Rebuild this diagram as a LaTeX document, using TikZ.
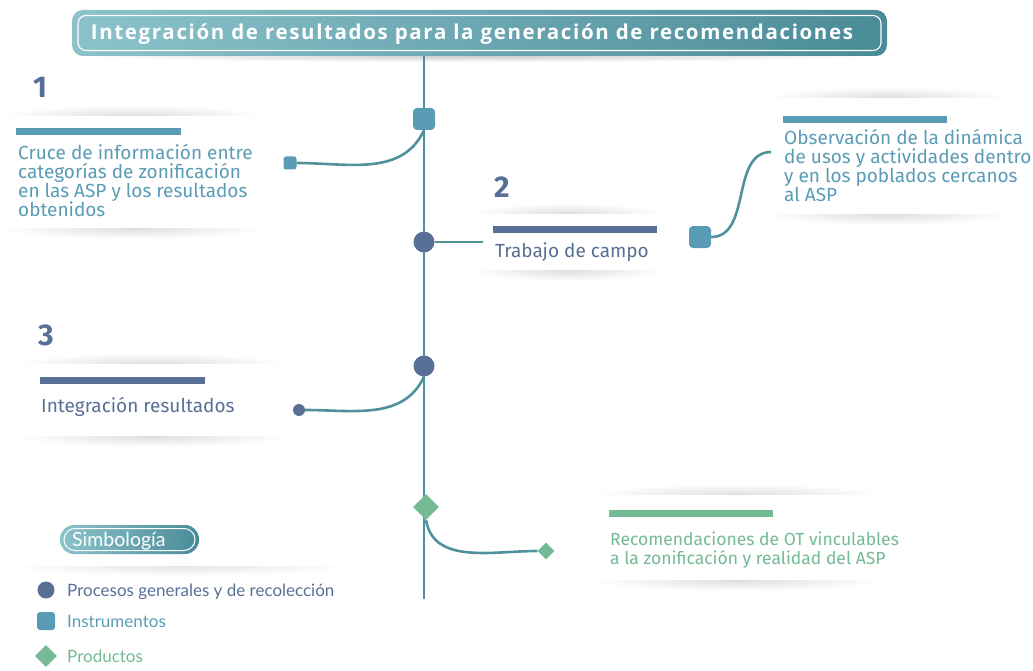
\documentclass[tikz,border=0pt]{standalone}
\usepackage{fontspec}
\setmainfont{Fira Sans}
\newfontfamily\titlefont[LetterSpace=8]{Open Sans}
\newfontfamily\legfont{Lato}
\usetikzlibrary{shapes.geometric}
\definecolor{navy}{HTML}{586F96}
\definecolor{bteal}{HTML}{5A9CB6}
\definecolor{lteal}{HTML}{4F929C}
\definecolor{pgreen}{HTML}{74BA95}
\definecolor{gleft}{HTML}{8CC3CB}
\definecolor{gright}{HTML}{4A8B98}
\tikzset{
  x=1pt, y=-1pt,
  conn/.style={draw=lteal, line width=2.6pt},
  procbig/.style={circle, fill=navy, minimum size=21pt, inner sep=0pt},
  procsmall/.style={circle, fill=navy, minimum size=12pt, inner sep=0pt},
  instbig/.style={rectangle, rounded corners=4pt, fill=bteal, minimum size=22pt, inner sep=0pt},
  instsmall/.style={rectangle, rounded corners=2.5pt, fill=bteal, minimum size=13pt, inner sep=0pt},
  prodbig/.style={diamond, fill=pgreen, minimum size=26pt, inner sep=0pt},
  prodsmall/.style={diamond, fill=pgreen, minimum size=17pt, inner sep=0pt},
  numtxt/.style={font=\fontsize{30}{32}\selectfont\bfseries, text=navy, anchor=base west, inner sep=0pt},
  bodytxt/.style={font=\fontsize{19}{19}\selectfont, anchor=base west, align=left, inner sep=0pt},
  legtxt/.style={font=\legfont\fontsize{17}{19}\selectfont, anchor=base west, inner sep=0pt},
  bar/.style={inner sep=0pt, minimum height=7pt, anchor=north west},
}
\newcommand{\cardshadow}[4]{% x1,y1,x2,y2
  \shade[inner color=black!13, outer color=white] ({(#1+#3)/2},#2) ellipse ({(#3-#1)/2} and 11);
  \shade[inner color=black!13, outer color=white] ({(#1+#3)/2},#4) ellipse ({(#3-#1)/2} and 11);
  \fill[white] (#1-30,#2) rectangle (#3+30,#4);
}
\begin{document}
\begin{tikzpicture}
\useasboundingbox (0,0) rectangle (1033,671);
% card shadows
\cardshadow{0}{116}{265}{228}
\cardshadow{470}{214}{665}{270}
\cardshadow{765}{98}{1010}{214}
\cardshadow{15}{364}{290}{436}
\cardshadow{590}{495}{885}{580}
\shade[inner color=black!10, outer color=white] (180,566) ellipse (175 and 10);
\fill[white] (0,500) rectangle (400,566);
% title shadow
\shade[inner color=black!20, outer color=white] (480,56) ellipse (410 and 6);
% title
\node[rectangle, rounded corners=11pt, left color=gleft, right color=gright, minimum width=815pt, minimum height=46pt, inner sep=0pt] (title) at (479.5,33) {};
\node[rectangle, rounded corners=8pt, draw=white, line width=1.1pt, minimum width=803pt, minimum height=35pt, inner sep=0pt] (titlein) at (479.5,33) {};
\node[font=\titlefont\fontsize{20.5}{22}\selectfont\bfseries, text=white, inner sep=0pt, anchor=base] (titletxt) at (472,40) {Integración de resultados para la generación de recomendaciones};
% main line
\coordinate (top) at (424,56);
\coordinate (bottom) at (424,599);
\draw[conn] (top) -- (bottom);
% step 1
\node[instbig] (sq1) at (424,119) {};
\node[instsmall] (ss1) at (290,163) {};
\draw[conn] (sq1.south) to[out=-115, in=0] (ss1.east);
\node[numtxt] (n1) at (33,98) {1};
\node[bar, fill=bteal, minimum width=165pt] (b1) at (16,128) {};
\node[bodytxt, text=bteal] (t1) at (18,217) {Cruce de información entre\\categorías de zonificación\\en las ASP y los resultados\\obtenidos};
% step 2
\node[procbig] (c2) at (424,242) {};
\coordinate (c2end) at (483,242);
\draw[conn] (c2.east) -- (c2end);
\node[numtxt] (n2) at (494,197) {2};
\node[bar, fill=navy, minimum width=164pt] (b2) at (493,226) {};
\node[bodytxt, text=navy] (t2) at (495,257) {Trabajo de campo};
\node[instbig] (sq2) at (700,237) {};
\coordinate (obsin) at (771,152);
\draw[conn] (sq2.east) to[out=0, in=180] (obsin);
\node[bar, fill=bteal, minimum width=164pt] (b3) at (783,116) {};
\node[bodytxt, text=bteal] (t3) at (784,201) {Observación de la dinámica\\de usos y actividades dentro\\y en los poblados cercanos\\al ASP};
% step 3
\node[procbig] (c3) at (424,366) {};
\node[procsmall] (sc3) at (299,410) {};
\draw[conn] (c3.south) to[out=-115, in=0] (sc3.east);
\node[numtxt] (n3) at (38,345) {3};
\node[bar, fill=navy, minimum width=165pt] (b4) at (40,377) {};
\node[bodytxt, text=navy] (t4) at (41,412) {Integración resultados};
% product
\node[prodbig] (d1) at (426,507) {};
\node[prodsmall] (ds1) at (546,551) {};
\draw[conn] (d1.south) to[out=-80, in=180] (ds1.west);
\node[bar, fill=pgreen, minimum width=164pt] (b5) at (609,510) {};
\node[bodytxt, text=pgreen, font=\fontsize{17.5}{19}\selectfont] (t5) at (610,564) {Recomendaciones de OT vinculables\\a la zonificación y realidad del ASP};
% legend
\node[rectangle, rounded corners=14pt, left color=gleft, right color=gright, minimum width=139pt, minimum height=29pt, inner sep=0pt] (pill) at (129.5,539.5) {};
\node[rectangle, rounded corners=11pt, draw=white, line width=1pt, minimum width=131pt, minimum height=22pt, inner sep=0pt] (pillin) at (129.5,539.5) {};
\node[font=\legfont\fontsize{19.5}{21}\selectfont, text=white, inner sep=0pt, anchor=base west] (simb) at (72,546) {Simbología};
\node[procbig, minimum size=17pt] (lg1) at (46,590) {};
\node[legtxt, text=navy] (lt1) at (67,596) {Procesos generales y de recolección};
\node[instbig, minimum size=18pt, rounded corners=3pt] (lg2) at (46,621) {};
\node[legtxt, text=bteal] (lt2) at (67,627) {Instrumentos};
\node[prodbig, minimum size=22pt] (lg3) at (46,656) {};
\node[legtxt, text=pgreen] (lt3) at (67,662) {Productos};
\end{tikzpicture}
\end{document}
